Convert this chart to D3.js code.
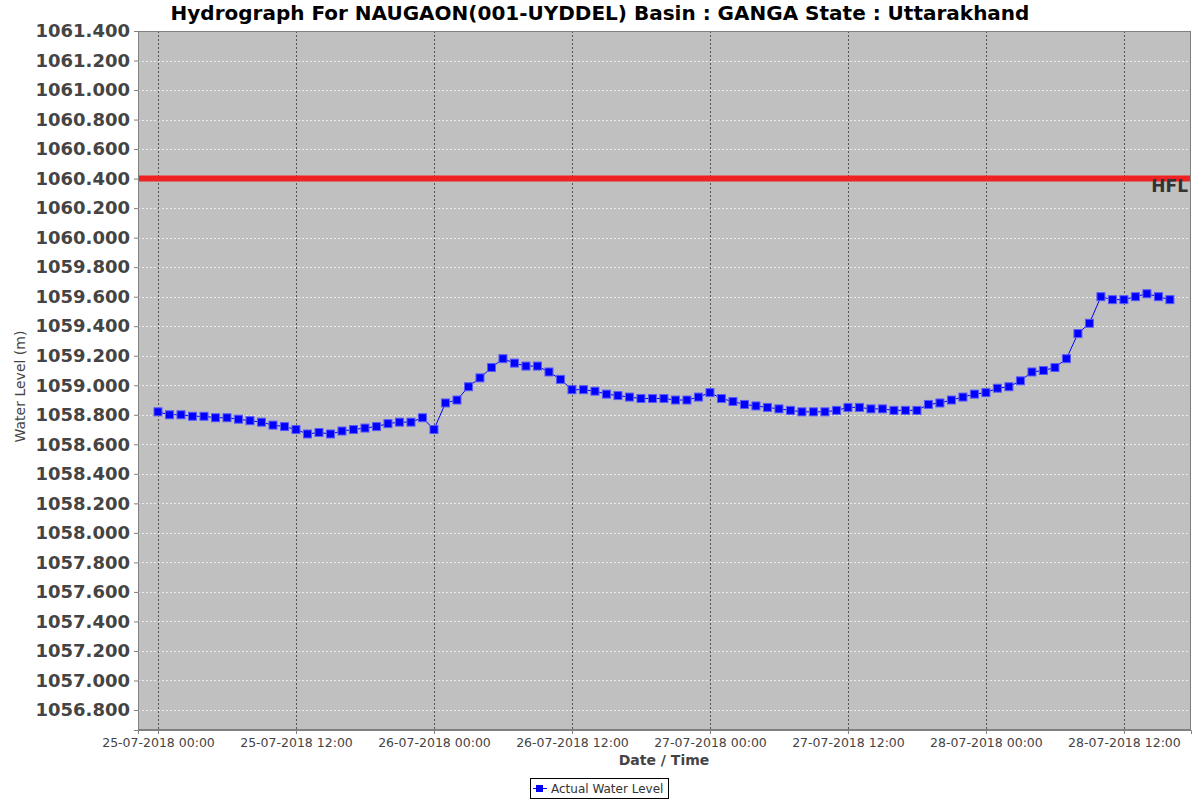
<!DOCTYPE html>
<html>
<head>
<meta charset="utf-8">
<script src="https://cdn.jsdelivr.net/npm/d3@7"></script>
<style>
  body { margin: 0; background: #fff; }
  text { font-family: "DejaVu Sans", sans-serif; }
</style>
</head>
<body>
<script>
// hourly readings from 25-07-2018 00:00
let startTime = new Date(2018, 6, 25, 0, 0);
let levels = [
    1058.82, 1058.80, 1058.80, 1058.79, 1058.79, 1058.78, 1058.78, 1058.77, 1058.76, 1058.75,
    1058.73, 1058.72, 1058.70, 1058.67, 1058.68, 1058.67, 1058.69, 1058.70, 1058.71, 1058.72,
    1058.74, 1058.75, 1058.75, 1058.78, 1058.70, 1058.88, 1058.90, 1058.99, 1059.05, 1059.12,
    1059.18, 1059.15, 1059.13, 1059.13, 1059.09, 1059.04, 1058.97, 1058.97, 1058.96, 1058.94,
    1058.93, 1058.92, 1058.91, 1058.91, 1058.91, 1058.90, 1058.90, 1058.92, 1058.95, 1058.91,
    1058.89, 1058.87, 1058.86, 1058.85, 1058.84, 1058.83, 1058.82, 1058.82, 1058.82, 1058.83,
    1058.85, 1058.85, 1058.84, 1058.84, 1058.83, 1058.83, 1058.83, 1058.87, 1058.88, 1058.90,
    1058.92, 1058.94, 1058.95, 1058.98, 1058.99, 1059.03, 1059.09, 1059.10, 1059.12, 1059.18,
    1059.35, 1059.42, 1059.60, 1059.58, 1059.58, 1059.60, 1059.62, 1059.60, 1059.58
];
let hfl = 1060.4;
let yTicks = d3.range(0, 24).map(i => +(1056.8 + i * 0.2).toFixed(1));
let xTicks = d3.range(0, 8).map(i => new Date(2018, 6, 25, i * 12, 0));

let data = levels.map((v, i) => ({ t: new Date(startTime.getTime() + i * 3600000), v: v }));

let width = 1200;
let height = 800;
let plotL = 138, plotR = 1191, plotT = 31, plotB = 730;

let svg = d3.select("body")
    .append("svg")
    .attr("width", width)
    .attr("height", height);

let scaleX = d3.scaleTime()
    .domain([new Date(2018, 6, 24, 22, 15, 40), new Date(2018, 6, 28, 17, 50)])
    .range([plotL, plotR]);
let scaleY = d3.scaleLinear()
    .domain([1056.6645, 1061.4])
    .range([plotB, plotT]);

// plot background
svg.append("rect")
    .attr("x", plotL).attr("y", plotT)
    .attr("width", plotR - plotL).attr("height", plotB - plotT)
    .attr("fill", "#c0c0c0");

// horizontal grid (light dashed)
svg.append("g")
    .selectAll("line")
    .data(yTicks)
    .join("line")
    .attr("x1", plotL).attr("x2", plotR)
    .attr("y1", d => Math.round(scaleY(d)) + 0.5)
    .attr("y2", d => Math.round(scaleY(d)) + 0.5)
    .attr("stroke", "#ffffff")
    .attr("stroke-opacity", 0.7)
    .attr("stroke-dasharray", "2,2");

// vertical grid (dark dashed)
svg.append("g")
    .selectAll("line")
    .data(xTicks)
    .join("line")
    .attr("x1", d => Math.round(scaleX(d)) + 0.5)
    .attr("x2", d => Math.round(scaleX(d)) + 0.5)
    .attr("y1", plotT).attr("y2", plotB)
    .attr("stroke", "#555")
    .attr("stroke-dasharray", "2,2");

// HFL marker
svg.append("line")
    .attr("x1", plotL).attr("x2", plotR)
    .attr("y1", scaleY(hfl)).attr("y2", scaleY(hfl))
    .attr("stroke", "#ee2222")
    .attr("stroke-width", 6);
svg.append("text")
    .attr("x", plotR - 3)
    .attr("y", scaleY(hfl) + 13)
    .attr("text-anchor", "end")
    .attr("font-size", 17)
    .attr("font-weight", "bold")
    .attr("fill", "#333")
    .text("HFL");

// series
let line = d3.line()
    .x(d => scaleX(d.t))
    .y(d => scaleY(d.v));
svg.append("path")
    .datum(data)
    .attr("d", line)
    .attr("fill", "none")
    .attr("stroke", "#0000ff")
    .attr("stroke-width", 1);
svg.append("g")
    .selectAll("rect")
    .data(data)
    .join("rect")
    .attr("x", d => scaleX(d.t) - 4)
    .attr("y", d => scaleY(d.v) - 4)
    .attr("width", 8).attr("height", 8)
    .attr("fill", "#0000ff")
    .attr("stroke", "#5a5aff")
    .attr("stroke-width", 1);

// plot outline
svg.append("rect")
    .attr("x", plotL + 0.5).attr("y", plotT + 0.5)
    .attr("width", plotR - plotL - 1).attr("height", plotB - plotT - 1)
    .attr("fill", "none")
    .attr("stroke", "#808080");

// axes
let axisY = d3.axisLeft(scaleY)
    .tickValues(yTicks)
    .tickFormat(d3.format(".3f"))
    .tickSize(4)
    .tickPadding(4);
let gy = svg.append("g")
    .attr("transform", `translate(${plotL}, 0)`)
    .call(axisY);
gy.select(".domain").attr("stroke", "#808080");
gy.selectAll(".tick line").attr("stroke", "#808080");
gy.selectAll(".tick text")
    .attr("font-family", "DejaVu Sans, sans-serif")
    .attr("font-size", 18)
    .attr("font-weight", "bold")
    .attr("fill", "#444");

let axisX = d3.axisBottom(scaleX)
    .tickValues(xTicks)
    .tickFormat(d3.timeFormat("%d-%m-%Y %H:%M"))
    .tickSize(4)
    .tickPadding(4);
let gx = svg.append("g")
    .attr("transform", `translate(0, ${plotB})`)
    .call(axisX);
gx.select(".domain").attr("stroke", "#808080");
gx.selectAll(".tick line").attr("stroke", "#808080");
gx.selectAll(".tick text")
    .attr("font-family", "DejaVu Sans, sans-serif")
    .attr("font-size", 12.5)
    .attr("fill", "#444");

// titles
svg.append("text")
    .attr("x", 600).attr("y", 20)
    .attr("text-anchor", "middle")
    .attr("font-size", 20)
    .attr("font-weight", "bold")
    .attr("fill", "#000")
    .text("Hydrograph For NAUGAON(001-UYDDEL) Basin : GANGA State : Uttarakhand");

svg.append("text")
    .attr("x", 664).attr("y", 765)
    .attr("text-anchor", "middle")
    .attr("font-size", 14)
    .attr("font-weight", "bold")
    .attr("fill", "#444")
    .text("Date / Time");

svg.append("text")
    .attr("transform", `translate(25, ${(plotT + plotB) / 2 + 6}) rotate(-90)`)
    .attr("text-anchor", "middle")
    .attr("font-size", 14)
    .attr("fill", "#444")
    .text("Water Level (m)");

// legend
let lg = svg.append("g").attr("transform", "translate(530, 778)");
lg.append("rect")
    .attr("x", 0.5).attr("y", 0.5)
    .attr("width", 138).attr("height", 20)
    .attr("fill", "#fff")
    .attr("stroke", "#000");
lg.append("line")
    .attr("x1", 3).attr("x2", 17).attr("y1", 10.5).attr("y2", 10.5)
    .attr("stroke", "#0000ff");
lg.append("rect")
    .attr("x", 6).attr("y", 7).attr("width", 7).attr("height", 7)
    .attr("fill", "#0000ff");
lg.append("text")
    .attr("x", 21).attr("y", 15)
    .attr("font-size", 12)
    .attr("fill", "#333")
    .text("Actual Water Level");
</script>
</body>
</html>
